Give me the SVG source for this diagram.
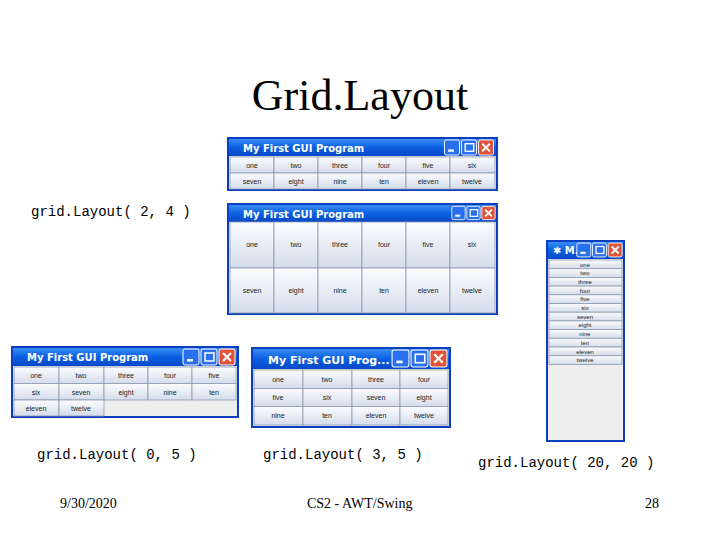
<svg xmlns="http://www.w3.org/2000/svg" width="720" height="540" viewBox="0 0 720 540">
<defs>
<linearGradient id="tb" x1="0" y1="0" x2="0" y2="1"><stop offset="0" stop-color="#3a8cf5"/><stop offset="0.5" stop-color="#0a5fe0"/><stop offset="1" stop-color="#0848c8"/></linearGradient>
<linearGradient id="bt" x1="0" y1="0" x2="0" y2="1"><stop offset="0" stop-color="#fbfcfe"/><stop offset="1" stop-color="#d4dcea"/></linearGradient>
<symbol id="ctl" viewBox="0 0 54 18"><rect x="1" y="1" width="16" height="16" rx="2" fill="#2a70ee" stroke="#fff"/><rect x="5" y="11" width="6" height="2.5" fill="#fff"/><rect x="19" y="1" width="16" height="16" rx="2" fill="#2a70ee" stroke="#fff"/><rect x="23" y="5" width="9" height="8" fill="none" stroke="#fff" stroke-width="1.5"/><rect x="37" y="1" width="16" height="16" rx="2" fill="#e0553a" stroke="#fff"/><path d="M41 5 L49 13 M49 5 L41 13" stroke="#fff" stroke-width="2.2"/></symbol>
</defs>
<style>
.win{fill:#eeeeee;stroke:#0a3fbf;stroke-width:2}
.b{fill:url(#bt);stroke:#8a9ab0;stroke-width:0.8}
.bl{font-family:"Liberation Sans",sans-serif;font-size:7px;fill:#222;text-anchor:middle}
.tt{font-family:"DejaVu Sans",sans-serif;font-size:10px;font-weight:bold;fill:#fff}
.mono{font-family:"Liberation Mono",monospace;font-size:14px;fill:#000}
.ft{font-family:"Liberation Serif",serif;font-size:14px;fill:#000}
</style>
<rect width="720" height="540" fill="#fff"/>
<text x="360" y="110" text-anchor="middle" font-family="Liberation Serif,serif" font-size="44" fill="#000">Grid.Layout</text>

<g id="win1">
<rect class="win" x="228" y="138" width="269" height="52"/>
<rect x="229" y="139" width="267" height="17" fill="url(#tb)"/>
<text class="tt" x="243" y="152">My First GUI Program</text>
<use href="#ctl" x="443" y="139" width="52" height="17"/>
<g>
<rect class="b" x="230" y="157" width="44" height="16"/><rect class="b" x="274" y="157" width="44" height="16"/><rect class="b" x="318" y="157" width="44" height="16"/><rect class="b" x="362" y="157" width="44" height="16"/><rect class="b" x="406" y="157" width="44" height="16"/><rect class="b" x="450" y="157" width="45" height="16"/>
<rect class="b" x="230" y="173" width="44" height="16"/><rect class="b" x="274" y="173" width="44" height="16"/><rect class="b" x="318" y="173" width="44" height="16"/><rect class="b" x="362" y="173" width="44" height="16"/><rect class="b" x="406" y="173" width="44" height="16"/><rect class="b" x="450" y="173" width="45" height="16"/>
<text class="bl" x="252" y="168">one</text><text class="bl" x="296" y="168">two</text><text class="bl" x="340" y="168">three</text><text class="bl" x="384" y="168">four</text><text class="bl" x="428" y="168">five</text><text class="bl" x="472" y="168">six</text>
<text class="bl" x="252" y="184">seven</text><text class="bl" x="296" y="184">eight</text><text class="bl" x="340" y="184">nine</text><text class="bl" x="384" y="184">ten</text><text class="bl" x="428" y="184">eleven</text><text class="bl" x="472" y="184">twelve</text>
</g>
</g>

<g id="win2">
<rect class="win" x="228" y="204" width="269" height="110"/>
<rect x="229" y="205" width="267" height="17" fill="url(#tb)"/>
<text class="tt" x="243" y="218">My First GUI Program</text>
<use href="#ctl" x="451" y="205" width="45" height="16"/>
<rect class="b" x="230" y="222" width="44" height="46"/><rect class="b" x="274" y="222" width="44" height="46"/><rect class="b" x="318" y="222" width="44" height="46"/><rect class="b" x="362" y="222" width="44" height="46"/><rect class="b" x="406" y="222" width="44" height="46"/><rect class="b" x="450" y="222" width="45" height="46"/>
<rect class="b" x="230" y="268" width="44" height="45"/><rect class="b" x="274" y="268" width="44" height="45"/><rect class="b" x="318" y="268" width="44" height="45"/><rect class="b" x="362" y="268" width="44" height="45"/><rect class="b" x="406" y="268" width="44" height="45"/><rect class="b" x="450" y="268" width="45" height="45"/>
<text class="bl" x="252" y="247">one</text><text class="bl" x="296" y="247">two</text><text class="bl" x="340" y="247">three</text><text class="bl" x="384" y="247">four</text><text class="bl" x="428" y="247">five</text><text class="bl" x="472" y="247">six</text>
<text class="bl" x="252" y="293">seven</text><text class="bl" x="296" y="293">eight</text><text class="bl" x="340" y="293">nine</text><text class="bl" x="384" y="293">ten</text><text class="bl" x="428" y="293">eleven</text><text class="bl" x="472" y="293">twelve</text>
</g>

<g id="win3">
<rect class="win" x="547" y="241" width="77" height="200"/>
<rect x="548" y="242" width="75" height="17" fill="url(#tb)"/>
<text class="tt" x="553" y="254">✱ M..</text>
<use href="#ctl" x="576" y="242" width="47" height="16"/>
<g>
<rect class="b" x="549" y="260" width="73" height="8.7"/><rect class="b" x="549" y="268.7" width="73" height="8.7"/><rect class="b" x="549" y="277.4" width="73" height="8.7"/><rect class="b" x="549" y="286.1" width="73" height="8.7"/><rect class="b" x="549" y="294.8" width="73" height="8.7"/><rect class="b" x="549" y="303.5" width="73" height="8.7"/><rect class="b" x="549" y="312.2" width="73" height="8.7"/><rect class="b" x="549" y="320.9" width="73" height="8.7"/><rect class="b" x="549" y="329.6" width="73" height="8.7"/><rect class="b" x="549" y="338.3" width="73" height="8.7"/><rect class="b" x="549" y="347" width="73" height="8.7"/><rect class="b" x="549" y="355.7" width="73" height="8.7"/>
<text class="bl" style="font-size:6px" x="585" y="266.5">one</text><text class="bl" style="font-size:6px" x="585" y="275.2">two</text><text class="bl" style="font-size:6px" x="585" y="283.9">three</text><text class="bl" style="font-size:6px" x="585" y="292.6">four</text><text class="bl" style="font-size:6px" x="585" y="301.3">five</text><text class="bl" style="font-size:6px" x="585" y="310">six</text><text class="bl" style="font-size:6px" x="585" y="318.7">seven</text><text class="bl" style="font-size:6px" x="585" y="327.4">eight</text><text class="bl" style="font-size:6px" x="585" y="336.1">nine</text><text class="bl" style="font-size:6px" x="585" y="344.8">ten</text><text class="bl" style="font-size:6px" x="585" y="353.5">eleven</text><text class="bl" style="font-size:6px" x="585" y="362.2">twelve</text>
</g>
</g>

<g id="win4">
<rect class="win" x="12" y="347" width="226" height="70"/>
<rect x="13" y="348" width="224" height="18" fill="url(#tb)"/>
<text class="tt" x="27" y="361">My First GUI Program</text>
<use href="#ctl" x="182" y="348" width="54" height="18"/>
<rect class="b" x="14" y="367" width="45" height="16.5"/><rect class="b" x="59" y="367" width="45" height="16.5"/><rect class="b" x="104" y="367" width="44" height="16.5"/><rect class="b" x="148" y="367" width="44" height="16.5"/><rect class="b" x="192" y="367" width="44" height="16.5"/>
<rect class="b" x="14" y="383.5" width="45" height="16.5"/><rect class="b" x="59" y="383.5" width="45" height="16.5"/><rect class="b" x="104" y="383.5" width="44" height="16.5"/><rect class="b" x="148" y="383.5" width="44" height="16.5"/><rect class="b" x="192" y="383.5" width="44" height="16.5"/>
<rect class="b" x="14" y="400" width="45" height="16"/><rect class="b" x="59" y="400" width="45" height="16"/>
<text class="bl" x="36" y="378">one</text><text class="bl" x="81" y="378">two</text><text class="bl" x="126" y="378">three</text><text class="bl" x="170" y="378">four</text><text class="bl" x="214" y="378">five</text>
<text class="bl" x="36" y="394.5">six</text><text class="bl" x="81" y="394.5">seven</text><text class="bl" x="126" y="394.5">eight</text><text class="bl" x="170" y="394.5">nine</text><text class="bl" x="214" y="394.5">ten</text>
<text class="bl" x="36" y="411">eleven</text><text class="bl" x="81" y="411">twelve</text>
</g>

<g id="win5">
<rect class="win" x="252" y="348" width="198" height="79"/>
<rect x="253" y="349" width="196" height="20" fill="url(#tb)"/>
<text class="tt" x="268" y="364" style="font-size:11px">My First GUI Prog...</text>
<use href="#ctl" x="391" y="349" width="57" height="19"/>
<rect class="b" x="254" y="370" width="49" height="18.5"/><rect class="b" x="303" y="370" width="49" height="18.5"/><rect class="b" x="352" y="370" width="48" height="18.5"/><rect class="b" x="400" y="370" width="48" height="18.5"/>
<rect class="b" x="254" y="388.5" width="49" height="18"/><rect class="b" x="303" y="388.5" width="49" height="18"/><rect class="b" x="352" y="388.5" width="48" height="18"/><rect class="b" x="400" y="388.5" width="48" height="18"/>
<rect class="b" x="254" y="406.5" width="49" height="18.5"/><rect class="b" x="303" y="406.5" width="49" height="18.5"/><rect class="b" x="352" y="406.5" width="48" height="18.5"/><rect class="b" x="400" y="406.5" width="48" height="18.5"/>
<text class="bl" x="278" y="382">one</text><text class="bl" x="327" y="382">two</text><text class="bl" x="376" y="382">three</text><text class="bl" x="424" y="382">four</text>
<text class="bl" x="278" y="400">five</text><text class="bl" x="327" y="400">six</text><text class="bl" x="376" y="400">seven</text><text class="bl" x="424" y="400">eight</text>
<text class="bl" x="278" y="418">nine</text><text class="bl" x="327" y="418">ten</text><text class="bl" x="376" y="418">eleven</text><text class="bl" x="424" y="418">twelve</text>
</g>

<g id="labels">
<text class="mono" x="31" y="216">grid.Layout( 2, 4 )</text>
<text class="mono" x="37" y="459">grid.Layout( 0, 5 )</text>
<text class="mono" x="263" y="459">grid.Layout( 3, 5 )</text>
<text class="mono" x="478" y="467">grid.Layout( 20, 20 )</text>
<text class="ft" x="60" y="508">9/30/2020</text>
<text class="ft" x="307" y="508">CS2 - AWT/Swing</text>
<text class="ft" x="645" y="508">28</text>
</g>
</svg>
